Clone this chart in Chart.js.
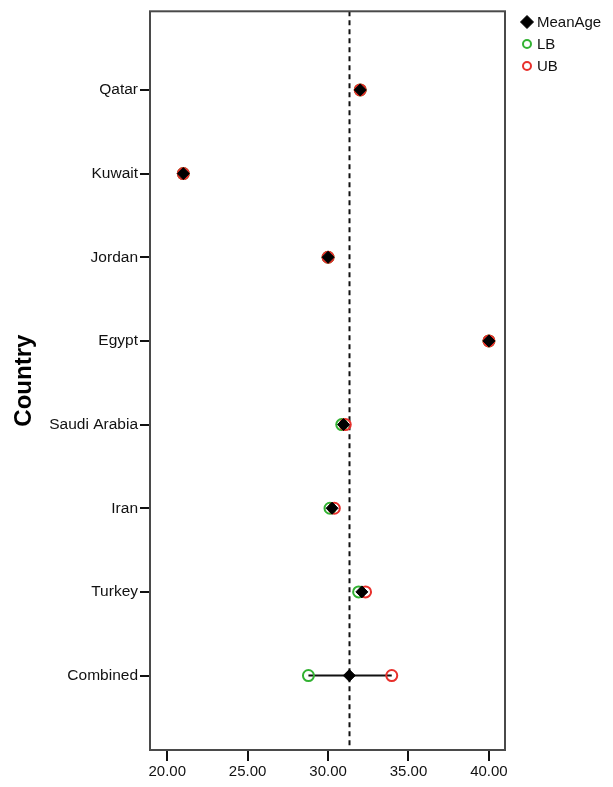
<!DOCTYPE html>
<html>
<head>
<meta charset="utf-8">
<script src="https://cdn.jsdelivr.net/npm/chart.js@4/dist/chart.umd.min.js"></script>
<style>
  html, body { margin: 0; padding: 0; background: #fff; }
  #wrap { width: 613px; height: 787px; }
</style>
</head>
<body>
<div id="wrap"><canvas id="forest" width="613" height="787"></canvas></div>
<script>
// forest plot: mean age by country, with lower / upper bounds
const countries = ['Qatar', 'Kuwait', 'Jordan', 'Egypt', 'Saudi Arabia', 'Iran', 'Turkey', 'Combined'];
const meanAge = [32.0, 21.0, 30.0, 40.0, 30.96, 30.25, 32.1, 31.32];
const lowerB  = [32.0, 21.0, 30.0, 40.0, 30.85, 30.12, 31.9, 28.78];
const upperB  = [32.0, 21.0, 30.0, 40.0, 31.07, 30.39, 32.33, 33.96];
const refLine = 31.32;
const xTicks = [20, 25, 30, 35, 40];

(function () {
  const FONT = "'Liberation Sans', Arial, Helvetica, sans-serif";
  const GREEN = '#33b233';
  const RED = '#e8302c';

  const pts = arr => arr.map((v, i) => ({ x: v, y: i }));
  // interval segments, separated by gaps
  const segs = [];
  countries.forEach((c, i) => { segs.push({ x: lowerB[i], y: i }, { x: upperB[i], y: i }, { x: NaN, y: NaN }); });

  const frame = {
    id: 'frame',
    beforeDatasetsDraw(chart) {
      const { ctx, chartArea: a, scales } = chart;
      ctx.save();
      // reference line
      const rx = Math.round(scales.x.getPixelForValue(refLine)) + 0.5;
      ctx.strokeStyle = '#111';
      ctx.lineWidth = 2;
      ctx.setLineDash([5, 4]);
      ctx.beginPath();
      ctx.moveTo(rx, a.top);
      ctx.lineTo(rx, a.bottom);
      ctx.stroke();
      ctx.setLineDash([]);
      // box
      ctx.strokeStyle = '#4a4a4a';
      ctx.lineWidth = 2;
      ctx.strokeRect(a.left, a.top, a.right - a.left, a.bottom - a.top);
      ctx.restore();
    },
    afterDraw(chart) {
      // legend on the right
      const { ctx, chartArea: a } = chart;
      const order = [3, 1, 2]; // MeanAge, LB, UB
      ctx.save();
      ctx.font = '15px ' + FONT;
      ctx.textBaseline = 'middle';
      order.forEach((di, k) => {
        const ds = chart.data.datasets[di];
        const y = 22 + k * 22;
        const x = a.right + 22;
        ctx.strokeStyle = ds.pointBorderColor;
        ctx.fillStyle = ds.pointStyle === 'rectRot' ? ds.pointBackgroundColor : '#fff';
        ctx.lineWidth = ds.pointBorderWidth;
        Chart.helpers.drawPoint(ctx, {
          pointStyle: ds.pointStyle,
          radius: ds.pointStyle === 'rectRot' ? 6.5 : 4,
          borderWidth: ds.pointBorderWidth,
          rotation: 0
        }, x, y);
        ctx.fillStyle = '#111';
        ctx.fillText(ds.label, x + 10, y + 1);
      });
      ctx.restore();
    }
  };

  new Chart(document.getElementById('forest').getContext('2d'), {
    type: 'scatter',
    data: {
      datasets: [
        { label: 'interval', data: segs, showLine: true, spanGaps: false,
          borderColor: '#111', borderWidth: 2, pointRadius: 0, order: 3 },
        { label: 'LB', data: pts(lowerB), pointStyle: 'circle', pointRadius: 5.5,
          pointBorderColor: GREEN, pointBackgroundColor: 'rgba(255,255,255,0)', pointBorderWidth: 2, order: 2 },
        { label: 'UB', data: pts(upperB), pointStyle: 'circle', pointRadius: 5.5,
          pointBorderColor: RED, pointBackgroundColor: 'rgba(255,255,255,0)', pointBorderWidth: 2, order: 1 },
        { label: 'MeanAge', data: pts(meanAge), pointStyle: 'rectRot', pointRadius: 6,
          pointBorderColor: '#000', pointBackgroundColor: '#000', pointBorderWidth: 1, order: 0 }
      ]
    },
    options: {
      responsive: false,
      animation: false,
      layout: { padding: { top: 9, right: 108, left: 0, bottom: 0 } },
      plugins: { legend: { display: false }, tooltip: { enabled: false } },
      scales: {
        x: {
          type: 'linear', min: 18.93, max: 41.0,
          afterBuildTicks: s => { s.ticks = xTicks.map(v => ({ value: v })); },
          afterFit: s => { s.height = 37; },
          border: { display: false },
          grid: { drawOnChartArea: false, drawTicks: true, tickLength: 11, color: '#111', lineWidth: 2 },
          ticks: { color: '#111', font: { family: FONT, size: 15 }, padding: 2, maxRotation: 0,
            callback: v => Number(v).toFixed(2) }
        },
        y: {
          type: 'linear', reverse: true, min: -0.94, max: 7.89,
          afterBuildTicks: s => { s.ticks = countries.map((c, i) => ({ value: i })); },
          afterFit: s => { s.width = 150; },
          border: { display: false },
          grid: { drawOnChartArea: false, drawTicks: true, tickLength: 10, color: '#111', lineWidth: 2 },
          ticks: { color: '#111', font: { family: FONT, size: 15.5 }, padding: 2,
            callback: v => countries[v] },
          title: { display: true, text: 'Country', color: '#000',
            font: { family: FONT, size: 24, weight: 'bold' }, padding: { top: 10, bottom: 0 } }
        }
      }
    },
    plugins: [frame]
  });
})();
</script>
</body>
</html>
